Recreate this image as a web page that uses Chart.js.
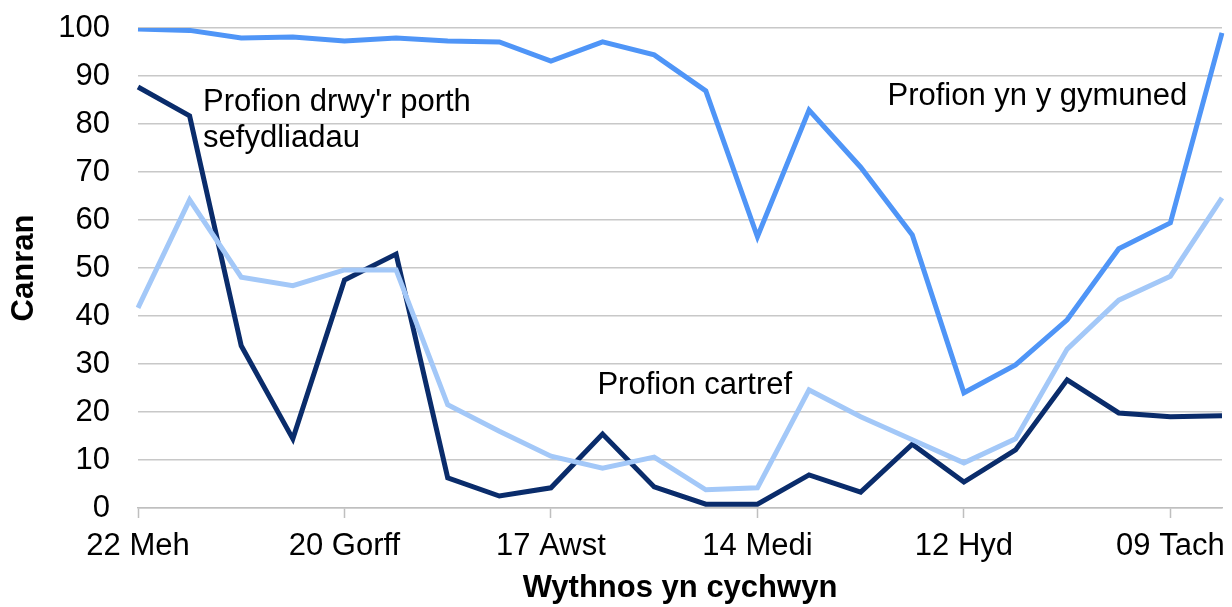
<!DOCTYPE html>
<html>
<head>
<meta charset="utf-8">
<script src="https://cdn.jsdelivr.net/npm/chart.js@4"></script>
<style>
  html, body { margin: 0; padding: 0; background: #fff; }
  #wrap { width: 1232px; height: 607px; }
</style>
</head>
<body>
<div id="wrap"><canvas id="myChart" width="1232" height="607"></canvas></div>
<script>
// weeks starting (every 4th one is labelled on the axis)
var weeks = ["22 Meh", "29 Meh", "06 Gorff", "13 Gorff", "20 Gorff", "27 Gorff",
  "03 Awst", "10 Awst", "17 Awst", "24 Awst", "31 Awst", "07 Medi", "14 Medi",
  "21 Medi", "28 Medi", "05 Hyd", "12 Hyd", "19 Hyd", "26 Hyd", "02 Tach",
  "09 Tach", "16 Tach"];

// Profion yn y gymuned
var gymuned = [99.8, 99.5, 97.9, 98.1, 97.3, 97.9, 97.3, 97.1, 93.1, 97.1, 94.4,
  86.9, 56.5, 82.9, 71.0, 56.9, 24.0, 29.8, 39.2, 54.0, 59.4, 99.0];

// Profion drwy'r porth sefydliadau
var porth = [87.7, 81.7, 33.8, 14.4, 47.5, 52.9, 6.3, 2.5, 4.2, 15.4, 4.4,
  0.8, 0.8, 6.9, 3.3, 13.3, 5.4, 12.1, 26.7, 19.8, 19.0, 19.2];

// Profion cartref
var cartref = [41.7, 64.2, 48.1, 46.3, 49.6, 49.6, 21.5, 16.0, 10.8, 8.3, 10.6,
  3.8, 4.2, 24.6, 19.0, 14.2, 9.4, 14.4, 33.1, 43.3, 48.3, 64.6];

var yTicks = [0, 10, 20, 30, 40, 50, 60, 70, 80, 90, 100];

var FONT = "'Liberation Sans', Arial, sans-serif";

// series names written next to the lines, placed in data units
var seriesLabels = [
  { lines: ["Profion drwy'r porth", "sefydliadau"], x: 1.26, y: 84.4 },
  { lines: ["Profion yn y gymuned"], x: 14.52, y: 85.8 },
  { lines: ["Profion cartref"], x: 8.9, y: 25.6 }
];

var labelPlugin = {
  id: 'seriesLabels',
  afterDatasetsDraw: function (chart) {
    var c = chart.ctx, xs = chart.scales.x, ys = chart.scales.y;
    c.save();
    c.font = '31px ' + FONT;
    c.fillStyle = '#000';
    c.textBaseline = 'middle';
    c.textAlign = 'left';
    seriesLabels.forEach(function (l) {
      var px = xs.getPixelForValue(l.x);
      var py = ys.getPixelForValue(l.y);
      l.lines.forEach(function (t, i) {
        c.fillText(t, px, py + i * 36);
      });
    });
    c.restore();
  }
};

var ctx = document.getElementById('myChart').getContext('2d');
var chart = new Chart(ctx, {
  type: 'line',
  data: {
    labels: weeks,
    datasets: [{
      label: 'Profion yn y gymuned',
      data: gymuned,
      borderColor: '#4f95f7',
      borderWidth: 5
    }, {
      label: 'Profion cartref',
      data: cartref,
      borderColor: '#a3c8f8',
      borderWidth: 5
    }, {
      label: "Profion drwy'r porth sefydliadau",
      data: porth,
      borderColor: '#0a2c6b',
      borderWidth: 5
    }]
  },
  options: {
    responsive: false,
    animation: false,
    layout: { padding: { top: 28, right: 10, left: 0, bottom: 0 } },
    elements: { point: { radius: 0 }, line: { tension: 0 } },
    plugins: { legend: { display: false }, tooltip: { enabled: false } },
    scales: {
      x: {
        type: 'category',
        offset: false,
        grid: {
          drawOnChartArea: false,
          drawTicks: true,
          tickLength: 10,
          tickWidth: 1.5,
          tickColor: function (c) { return c.index % 4 === 0 ? '#bfbfbf' : 'rgba(0,0,0,0)'; }
        },
        border: { color: '#bfbfbf', width: 1.5 },
        ticks: {
          autoSkip: false,
          maxRotation: 0,
          padding: 10,
          color: '#000',
          font: { family: FONT, size: 31 },
          callback: function (v, i) { return i % 4 === 0 ? weeks[i] : ''; }
        },
        title: {
          display: true,
          text: 'Wythnos yn cychwyn',
          color: '#000',
          font: { family: FONT, size: 31, weight: 'bold' },
          padding: { top: 4, bottom: 0 }
        },
        afterFit: function (s) { s.height = 99; }
      },
      y: {
        min: 0,
        max: 100,
        afterBuildTicks: function (s) { s.ticks = yTicks.map(function (v) { return { value: v }; }); },
        grid: {
          color: '#c8c8c8',
          lineWidth: 1.5,
          drawTicks: true,
          tickLength: 25,
          tickColor: 'rgba(0,0,0,0)'
        },
        border: { display: false },
        ticks: {
          padding: 3,
          color: '#000',
          font: { family: FONT, size: 31 }
        },
        title: {
          display: true,
          text: 'Canran',
          color: '#000',
          font: { family: FONT, size: 31, weight: 'bold' },
          padding: { top: 6, bottom: 4 }
        },
        afterFit: function (s) { s.width = 138; }
      }
    }
  },
  plugins: [labelPlugin]
});
</script>
</body>
</html>
